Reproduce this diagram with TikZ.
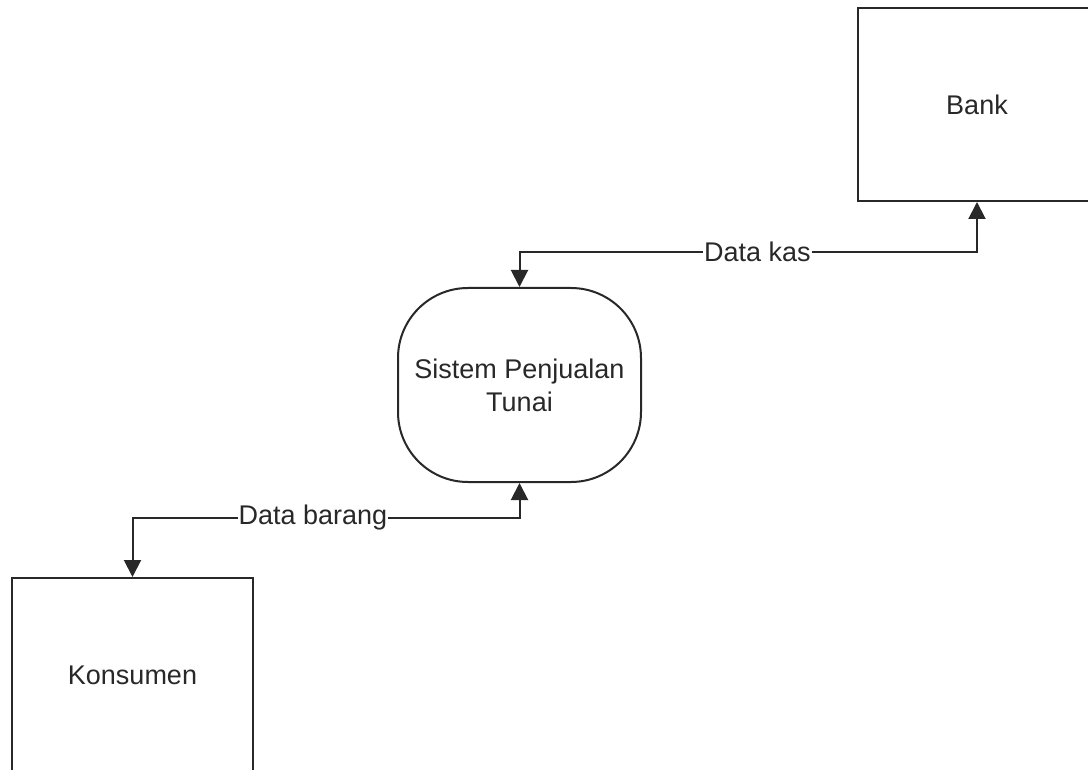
\documentclass[tikz,border=0pt]{standalone}
\usepackage{fontspec}
\setmainfont{Liberation Sans}
\usetikzlibrary{arrows.meta}
\definecolor{ln}{RGB}{40,40,40}
\definecolor{tx}{RGB}{40,40,40}
\begin{document}
\begin{tikzpicture}[x=1pt,y=-1pt,
  entity/.style={draw=ln, line width=2pt, rectangle, inner sep=0pt, text=tx, font=\fontsize{27}{33}\selectfont},
  proc/.style={draw=ln, line width=2pt, rectangle, rounded corners=70pt, inner sep=0pt, align=center, text=tx, font=\fontsize{27}{33}\selectfont},
  flow/.style={draw=ln, line width=2pt, {Triangle[width=17pt,length=17pt]}-{Triangle[width=17pt,length=17pt]}},
  lbl/.style={fill=white, inner sep=1pt, text=tx, font=\fontsize{27}{33}\selectfont}]
\useasboundingbox[fill=white] (0,0) rectangle (1088,770);
\node[entity, minimum width=238pt, minimum height=193pt] (bank) at (977,104.5) {Bank};
\node[entity, minimum width=241pt, minimum height=194pt] (kons) at (132.5,675) {Konsumen};
\node[proc, minimum width=243pt, minimum height=194pt] (sys) at (519.5,385) {Sistem Penjualan\\Tunai};
\draw[flow] (sys.north) -- (sys.north |- 0,252) -- node[lbl, pos=0.52] {Data kas} (bank.south |- 0,252) -- (bank.south);
\draw[flow] (kons.north) -- (kons.north |- 0,518) -- node[lbl, pos=0.466] {Data barang} (sys.south |- 0,518) -- (sys.south);
\end{tikzpicture}
\end{document}
